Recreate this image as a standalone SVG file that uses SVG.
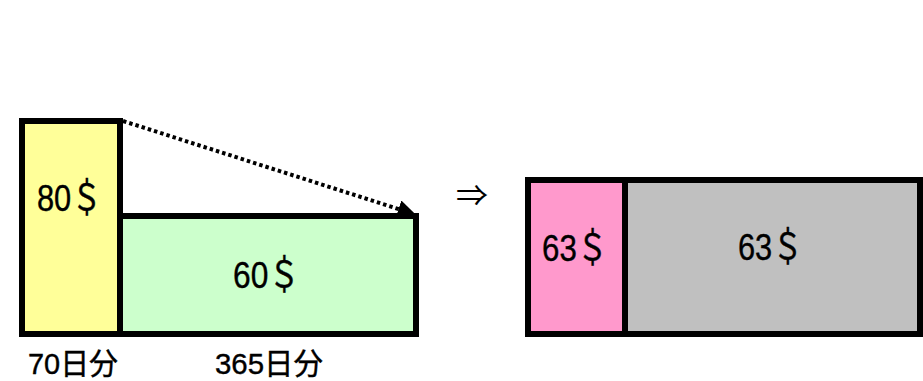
<svg xmlns="http://www.w3.org/2000/svg" width="923" height="381" viewBox="0 0 923 381">
<style>
.box{stroke:#000;stroke-width:6}
.t{font-family:"Liberation Sans","Noto Sans CJK JP",sans-serif;fill:#000;stroke:#000;stroke-width:0.4}
</style>
<defs>
<marker id="ah" viewBox="0 0 10 10" refX="9" refY="5" markerWidth="4.5" markerHeight="4.5" orient="auto" markerUnits="strokeWidth">
<path d="M0,0 L10,5 L0,10 z" fill="#000"/>
</marker>
</defs>
<rect width="923" height="381" fill="#fff"/>
<g id="old-rate">
<rect class="box" x="22" y="121" width="98" height="213" fill="#FFFF99"/>
<text class="t" x="37" y="211" font-size="37" textLength="65" lengthAdjust="spacingAndGlyphs">80＄</text>
</g>
<g id="new-rate">
<rect class="box" x="120" y="216" width="296" height="118" fill="#CCFFCC"/>
<text class="t" x="233" y="288" font-size="37" textLength="67" lengthAdjust="spacingAndGlyphs">60＄</text>
</g>
<g id="pink">
<rect class="box" x="528" y="180" width="97" height="154" fill="#FF99CC"/>
<text class="t" x="542" y="261" font-size="37" textLength="66" lengthAdjust="spacingAndGlyphs">63＄</text>
</g>
<g id="gray">
<rect class="box" x="625" y="180" width="295" height="154" fill="#C0C0C0"/>
<text class="t" x="738" y="260" font-size="37" textLength="65" lengthAdjust="spacingAndGlyphs">63＄</text>
</g>
<g id="labels">
<text class="t" x="28" y="374" font-size="30" textLength="90" lengthAdjust="spacingAndGlyphs">70日分</text>
<text class="t" x="215" y="374" font-size="30" textLength="108" lengthAdjust="spacingAndGlyphs">365日分</text>
<text x="456" y="206" font-size="30" font-family="'Noto Sans CJK JP','DejaVu Sans',sans-serif" textLength="32" lengthAdjust="spacingAndGlyphs">⇒</text>
</g>
<g id="connectors">
<line x1="123" y1="121" x2="414" y2="214" stroke="#000" stroke-width="4" stroke-dasharray="3.5 3" marker-end="url(#ah)"/>
</g>
</svg>
